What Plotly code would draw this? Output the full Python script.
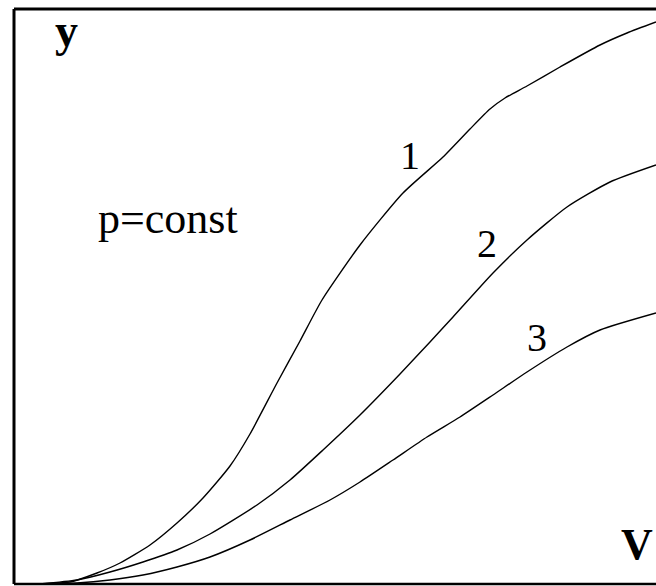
import plotly.graph_objects as go

# Curve data (V, y)
v1 = [26, 56, 83, 106, 136, 163, 189, 216, 236, 263, 286, 308, 346, 389, 429, 456, 476, 491, 513, 546, 586, 613, 642]
y1 = [0, 2, 11, 21, 39, 61, 86, 118, 150, 201, 243, 284, 339, 391, 427, 455, 475, 486, 498, 517, 539, 551, 562]

v2 = [26, 63, 96, 129, 163, 196, 243, 276, 309, 346, 386, 416, 439, 479, 513, 553, 596, 642]
y2 = [0, 4, 12, 22, 34, 50, 79, 104, 134, 169, 210, 242, 267, 311, 344, 377, 402, 419]

v3 = [26, 63, 96, 129, 163, 196, 236, 276, 316, 346, 379, 413, 446, 479, 513, 553, 586, 642]
y3 = [0, 1, 4, 9, 17, 27, 44, 64, 84, 102, 124, 147, 167, 189, 212, 237, 254, 271]

curve_labels = ["1", "2", "3"]

fig = go.Figure()
for vx, vy in [(v1, y1), (v2, y2), (v3, y3)]:
    fig.add_trace(go.Scatter(x=vx, y=vy, mode="lines",
                             line=dict(color="black", width=1.4, shape="spline", smoothing=0.6),
                             showlegend=False, hoverinfo="skip"))

serif = "Liberation Serif"
for (x, y, t) in [(396, 429, curve_labels[0]), (473, 341, curve_labels[1]), (523, 247, curve_labels[2])]:
    fig.add_annotation(x=x, y=y, text=t, showarrow=False, xanchor="center", yanchor="middle",
                       font=dict(family=serif, size=40, color="black"))
fig.add_annotation(x=154, y=366, text="p=const", showarrow=False, xanchor="center",
                   yanchor="middle", font=dict(family=serif, size=44, color="black"))
fig.add_annotation(x=52, y=554, text="<b>y</b>", showarrow=False, xanchor="center",
                   yanchor="middle", font=dict(family=serif, size=46, color="black"))
fig.add_annotation(x=641, y=40, text="<b>V</b>", showarrow=False, xanchor="right",
                   yanchor="middle", font=dict(family=serif, size=44, color="black"))

line = dict(color="black", width=3)
fig.add_shape(type="line", xref="paper", yref="paper", x0=0, x1=0, y0=0, y1=1, line=line)
fig.add_shape(type="line", xref="paper", yref="paper", x0=0, x1=1, y0=1, y1=1, line=line)
fig.add_shape(type="line", xref="paper", yref="paper", x0=0, x1=1, y0=0, y1=0,
              line=dict(color="black", width=2.5))

fig.update_layout(
    width=656, height=586,
    margin=dict(l=14, r=0, t=9, b=2),
    paper_bgcolor="white", plot_bgcolor="white",
    xaxis=dict(range=[0, 642], visible=False, fixedrange=True),
    yaxis=dict(range=[0, 575], visible=False, fixedrange=True),
)

fig.write_html("out.html", config={"displayModeBar": False},
               post_script="document.body.style.margin='0';document.body.style.overflow='hidden';")
